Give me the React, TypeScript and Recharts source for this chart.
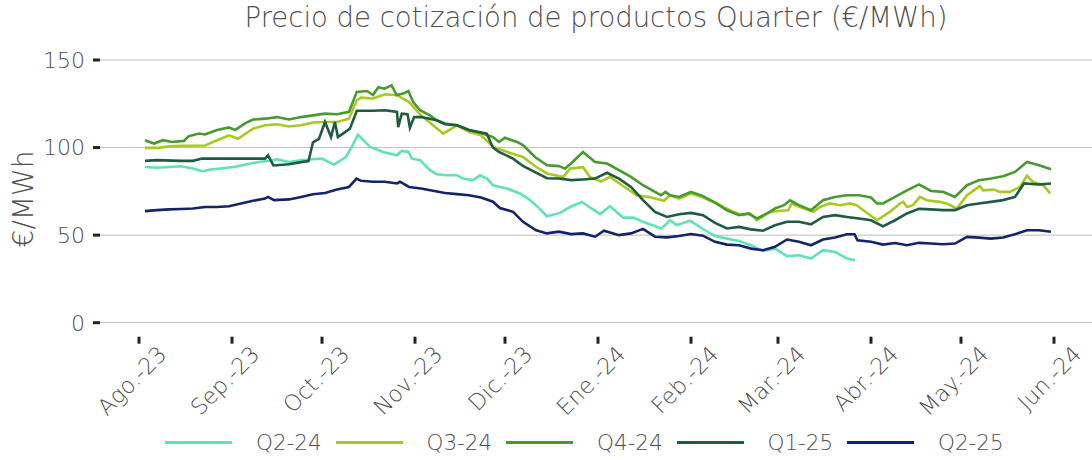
import React from 'react';
import { LineChart, Line, XAxis, YAxis, CartesianGrid } from 'recharts';

// days counted from 1 Aug 2023, [day, €/MWh]
const monthDays = [0, 31, 61, 92, 122, 153, 184, 213, 244, 274, 305];
const monthLabels = ['Ago.-23', 'Sep.-23', 'Oct.-23', 'Nov.-23', 'Dic.-23', 'Ene.-24', 'Feb.-24', 'Mar.-24', 'Abr.-24', 'May.-24', 'Jun.-24'];
const yTicks = [0, 50, 100, 150];

const q224: [number, number][] = [
  [2, 88.9], [6, 88.5], [10, 88.9], [14, 89.3], [18, 88], [21, 86.5], [24, 87.5], [28, 88.2], [32, 89], [36, 90.5],
  [40, 91.8], [44, 92.6], [46, 93.3], [50, 91.7], [54, 92.8], [58, 93.3], [61, 93.7], [65, 90.3], [69, 94.6], [71.4, 102],
  [73, 107.4], [77, 100.4], [81.4, 97.5], [85.9, 95.6], [87.6, 98.1], [89.8, 97.5], [91, 93.7], [93.7, 92.8], [97, 87.1],
  [99.2, 84.8], [102.6, 84.2], [106, 84.2], [108, 82.3], [111.4, 81.4], [113.7, 84.2], [116, 82.3], [118, 78.5],
  [122.6, 76.6], [127, 73.8], [130, 70.5], [133, 66], [136, 60.8], [140.3, 62.7], [143.7, 66.1], [147.6, 69],
  [150.3, 65.8], [153.7, 62], [157, 66.5], [161.4, 60], [164.8, 60], [168, 57.6], [174.2, 53.8], [177, 58.5],
  [179.2, 55.7], [183.7, 58.2], [188, 53.5], [192, 49.5], [196, 48], [200, 46.7], [204, 44.2], [208, 41], [212, 42.3],
  [216, 38], [220, 38.5], [224, 36.6], [228, 41.4], [232, 40.4], [236, 36.6], [238.7, 35.7],
];

const q324: [number, number][] = [
  [2, 99.8], [6, 99.8], [10, 100.7], [14, 101], [18, 101], [22, 101.2], [26, 104.2], [30, 107], [33, 105], [38, 110.8],
  [42, 112.7], [46, 113.3], [50, 112], [54, 112.7], [58, 114.3], [62, 114.6], [66, 114.6], [70, 116.5], [72.6, 127],
  [74, 128.5], [78, 128], [82, 130.4], [86, 129.9], [90, 126], [94, 118.4], [98, 112.7], [101.4, 108], [106, 112.7],
  [110, 109], [114, 107], [118, 100.5], [123.7, 96.9], [128, 94.6], [132.4, 88.9], [136, 85.2], [141.4, 83.2],
  [143.7, 88], [148, 88.8], [150.3, 83.2], [154, 80.6], [157, 83.3], [161, 78.5], [166, 72.8], [170, 71.8], [175, 69.6],
  [177, 72.8], [180, 70.8], [184, 73.8], [187, 72.2], [192.6, 68.1], [198, 63.3], [201.4, 61.4], [203.7, 62.4],
  [206, 58.5], [210.3, 63.3], [213.7, 63.9], [216.4, 64.2], [217.6, 68.1], [220.3, 66.1], [224.8, 63.3], [227, 66.1],
  [230.3, 68.1], [233.7, 67.1], [237, 68.1], [239.2, 67.1], [246, 58.5], [250.3, 63.3], [253.7, 68.1], [254.8, 69],
  [256, 66.1], [258, 67.1], [260.3, 71.8], [262.6, 69.9], [267, 69], [269.2, 68.1], [272.6, 65.2], [276, 72.8],
  [280.3, 78], [281.4, 75.6], [284.8, 76], [287, 74.7], [290.3, 74.7], [293.7, 77.6], [296, 84], [298, 80.4],
  [301.4, 78.5], [303.7, 73.8],
];

const q424: [number, number][] = [
  [2, 104.2], [5, 102.3], [8, 104.2], [11, 103.2], [15, 103.8], [16.5, 106.4], [20, 108], [22, 107.5], [26, 110],
  [30, 111.5], [32, 110], [35.5, 114], [38, 116], [42, 116.5], [46, 117.4], [50, 116], [54, 117.4], [58, 118.4],
  [62, 119.4], [66, 119], [70, 120.4], [72.6, 131.8], [76, 132.3], [78, 130], [79.8, 134.5], [81.8, 133.6],
  [84.2, 135.5], [85.9, 130], [88.1, 130.8], [89.8, 132.3], [91.4, 126], [93.7, 121.3], [97, 118.4], [99.2, 115.6],
  [102, 113.7], [106, 112.7], [110, 110], [114, 108.3], [118, 106], [120, 103.2], [122, 105.6], [126, 103.2],
  [128, 101.4], [132, 94.6], [136, 89.9], [140, 89.4], [142, 88], [144, 90.9], [148, 97.5], [152, 91.8], [156, 90.9],
  [160, 87.1], [164, 83.3], [168, 78.5], [172, 74.7], [174, 72.8], [175.5, 74.7], [177, 72.8], [180, 71.8], [184, 74.7],
  [188, 72.3], [192, 68.5], [196, 64.2], [200, 61.4], [203, 62.4], [206, 59.5], [210, 63], [212, 65.2], [215, 67.1],
  [217, 69.9], [220, 67.1], [224, 64.2], [228, 69.9], [232, 71.8], [236, 72.8], [240, 72.8], [244, 71.5], [246, 68.1],
  [248, 68.1], [252, 71.8], [256, 75.6], [260, 79], [264, 75.2], [268, 74.7], [272, 71.8], [276, 78.5], [280, 81.4],
  [284, 82.3], [288, 83.6], [292, 86.1], [296, 91.8], [300, 89.9], [304, 87.6],
];

const q125: [number, number][] = [
  [2, 92.4], [6, 92.8], [14, 92.4], [18, 92.4], [21, 93.7], [42, 93.7], [43, 95.6], [44.8, 89.8], [50, 90.5],
  [54, 91.7], [56.5, 92.3], [58, 103], [60, 105], [62, 114.6], [64, 106], [65.3, 114.6], [66.3, 106], [68, 108],
  [70.3, 110.8], [72.6, 121], [78, 121], [82, 121.3], [86, 120.4], [86.4, 111.7], [87.6, 119.4], [89.5, 119],
  [90.3, 111.3], [91.7, 117.4], [94, 117.4], [99.2, 115.6], [102, 113.3], [106, 112.7], [110, 110], [115.9, 108],
  [118, 100], [120, 97.5], [124.7, 93.7], [128, 89.5], [132, 86], [136, 82.5], [140, 82.3], [144, 81.4], [148, 81.8],
  [152, 82.3], [156, 85.6], [160, 82.3], [164, 77.5], [168, 70], [172, 63.3], [176, 60.4], [180, 61.9], [184, 62.7],
  [188, 61.4], [192, 57], [196, 53.8], [200, 54.7], [204, 53.3], [208, 52.5], [212, 55.6], [216, 57.6], [220, 57.6],
  [224, 56.2], [228, 60.4], [232, 61.4], [236, 60.4], [240, 59.5], [244, 58.5], [248, 55], [252, 58.5], [256, 62.4],
  [260, 65], [264, 64.7], [268, 64.3], [272, 64.3], [276, 67.1], [280, 68.1], [284, 69], [288, 70], [292, 71.8],
  [295, 79.5], [300, 78.9], [304, 79.5],
];

const q225: [number, number][] = [
  [2, 63.7], [6, 64.3], [10, 64.7], [14, 64.9], [18, 65.2], [22, 66.1], [26, 66.1], [30, 66.5], [34, 68.1], [38, 69.6],
  [42, 70.9], [43, 71.8], [45, 70], [50, 70.4], [54, 71.8], [58, 73.3], [62, 74.1], [66, 76], [70, 77.5], [72.5, 82.3],
  [74, 81], [78, 80.5], [82, 80.5], [86, 79.5], [87, 80.5], [90, 77.5], [94, 76.6], [98, 75.3], [102, 74.1],
  [106, 73.4], [110, 72.8], [114, 71.5], [118, 69.1], [120.3, 65.5], [124.7, 63.3], [128, 57.6], [132.4, 52.8],
  [136, 51], [140, 52], [144, 50.6], [148, 51], [152, 49.1], [155, 52.5], [160, 50], [164, 51], [168, 53.6],
  [172, 49.1], [176, 48.7], [180, 49.5], [184, 50.6], [188, 49.7], [192, 46.2], [196, 44.6], [200, 44.2], [204, 42.3],
  [208, 41.4], [212, 43.3], [216, 47.5], [220, 46.2], [224, 44.2], [228, 47.5], [232, 48.6], [236, 50.5],
  [238.5, 50.5], [239.5, 47.1], [244, 46.2], [248, 44.6], [252, 45.5], [256, 44.2], [260, 45.6], [264, 45.2],
  [268, 44.8], [272, 45.2], [276, 49], [280, 48.6], [284, 48], [288, 48.6], [292, 50.5], [296, 52.8], [300, 52.8],
  [304, 51.9],
];

const series = [
  { name: 'Q2-24', color: '#5fe2b7', points: q224 },
  { name: 'Q3-24', color: '#a8c91d', points: q324 },
  { name: 'Q4-24', color: '#479a30', points: q424 },
  { name: 'Q1-25', color: '#1d5c3f', points: q125 },
  { name: 'Q2-25', color: '#14246a', points: q225 },
];

const FONT = "'DejaVu Sans', sans-serif";
const TEXT = '#4f4f4f';

// the axis draws the tick line from its outer end inward; the dash keeps only the outer 7px
const MonthTick = (props: any) => {
  const { x, y, payload } = props;
  const label = monthLabels[monthDays.indexOf(payload.value)];
  const tx = x + 29;
  const ty = y + 12;
  return (
    <text x={tx} y={ty} textAnchor="end" transform={`rotate(-45, ${tx}, ${ty})`}
      fill={TEXT} fontSize={22.5} fontFamily={FONT} fontWeight={200}>
      {label}
    </text>
  );
};

export default function App() {
  return (
    <div style={{ position: 'absolute', left: 0, top: 0, width: 1092, height: 460, background: '#fff', fontFamily: FONT, color: TEXT }}>
      <div style={{ position: 'absolute', left: 100, width: 992, top: 1, textAlign: 'center', fontSize: 27.5, fontWeight: 200, whiteSpace: 'nowrap' }}>
        Precio de cotización de productos Quarter (€/MWh)
      </div>
      <div style={{ position: 'absolute', left: 24 - 70, top: 199 - 17, width: 140, height: 34, lineHeight: '34px', textAlign: 'center', fontSize: 28, fontWeight: 200, transform: 'rotate(-90deg)' }}>
        €/MWh
      </div>
      <LineChart width={1092} height={460} margin={{ top: 60, right: 0, left: 40, bottom: 37.3 }}>
        <CartesianGrid vertical={false} stroke="#bdbdbd" />
        <XAxis type="number" dataKey="day" domain={[-13, 317.67]} ticks={monthDays} interval={0}
          allowDataOverflow tick={<MonthTick />} axisLine={false} tickSize={21} tickMargin={0} height={100}
          tickLine={{ stroke: '#222222', strokeWidth: 3, strokeDasharray: '7 100' }} />
        <YAxis type="number" domain={[0, 150]} ticks={yTicks} width={60} axisLine={false}
          tickLine={{ stroke: '#222222', strokeWidth: 3 }} tickSize={7} tickMargin={8}
          tick={{ fill: TEXT, fontSize: 22, fontFamily: FONT, fontWeight: 200 }} />
        {series.map((s) => (
          <Line key={s.name} data={s.points.map(([day, v]) => ({ day, v }))} dataKey="v" name={s.name}
            type="linear" stroke={s.color} strokeWidth={2.6} dot={false} isAnimationActive={false} />
        ))}
      </LineChart>
      {series.map((s, i) => (
        <div key={s.name}>
          <div style={{ position: 'absolute', left: 165 + i * 170.5, top: 441, width: 67, height: 3, background: s.color }} />
          <div style={{ position: 'absolute', left: 256 + i * 170.5, top: 429, lineHeight: '28px', fontSize: 21.5, fontWeight: 200 }}>
            {s.name}
          </div>
        </div>
      ))}
    </div>
  );
}
